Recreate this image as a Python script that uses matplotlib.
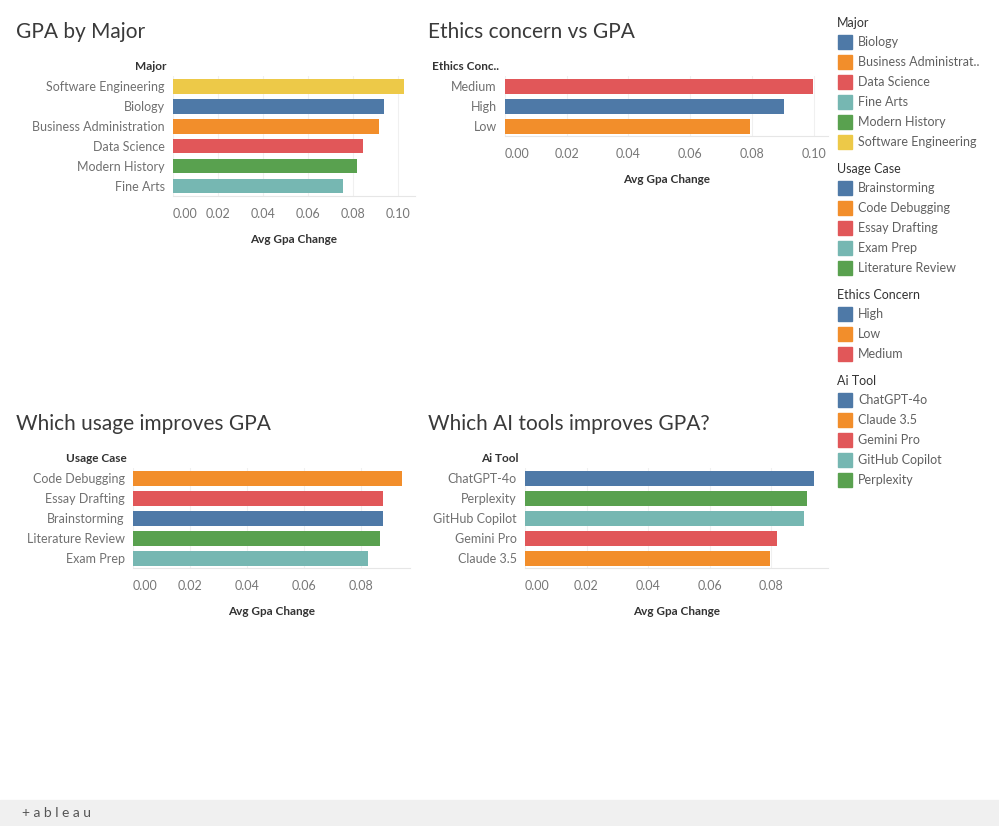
import matplotlib
matplotlib.use('Agg')
import matplotlib.pyplot as plt
from matplotlib.patches import Rectangle

plt.rcParams['font.family'] = ['Lato', 'DejaVu Sans']

BLUE, ORANGE, RED, TEAL, GREEN, YELLOW = '#4e79a7', '#f28e2b', '#e15759', '#76b7b2', '#59a14f', '#edc948'

major_names = ['Software Engineering', 'Biology', 'Business Administration', 'Data Science', 'Modern History', 'Fine Arts']
major_vals = [0.1027, 0.0938, 0.0916, 0.0844, 0.0818, 0.0756]
major_cols = [YELLOW, BLUE, ORANGE, RED, GREEN, TEAL]

ethics_names = ['Medium', 'High', 'Low']
ethics_vals = [0.0998, 0.0904, 0.0794]
ethics_cols = [RED, BLUE, ORANGE]

usage_names = ['Code Debugging', 'Essay Drafting', 'Brainstorming', 'Literature Review', 'Exam Prep']
usage_vals = [0.0944, 0.0877, 0.0877, 0.0867, 0.0825]
usage_cols = [ORANGE, RED, BLUE, GREEN, TEAL]

tool_names = ['ChatGPT-4o', 'Perplexity', 'GitHub Copilot', 'Gemini Pro', 'Claude 3.5']
tool_vals = [0.0940, 0.0917, 0.0907, 0.0820, 0.0797]
tool_cols = [BLUE, GREEN, TEAL, RED, ORANGE]

legends = [
    ('Major', ['Biology', 'Business Administrat..', 'Data Science', 'Fine Arts', 'Modern History', 'Software Engineering'],
     [BLUE, ORANGE, RED, TEAL, GREEN, YELLOW]),
    ('Usage Case', ['Brainstorming', 'Code Debugging', 'Essay Drafting', 'Exam Prep', 'Literature Review'],
     [BLUE, ORANGE, RED, TEAL, GREEN]),
    ('Ethics Concern', ['High', 'Low', 'Medium'], [BLUE, ORANGE, RED]),
    ('Ai Tool', ['ChatGPT-4o', 'Claude 3.5', 'Gemini Pro', 'GitHub Copilot', 'Perplexity'],
     [BLUE, ORANGE, RED, TEAL, GREEN]),
]

W, H = 999, 826
fig = plt.figure(figsize=(W / 100, H / 100), dpi=100)
fig.patch.set_facecolor('white')


def px_axes(left, top, width, height):
    return fig.add_axes([left / W, 1 - (top + height) / H, width / W, height / H])


def bar_chart(title, header, names, vals, cols, left, right, top, xmax, ticks, title_x, title_y):
    n = len(names)
    ax = px_axes(left, top, right - left, n * 20)
    y = list(range(n))
    ax.barh(y, vals, color=cols, height=0.75)
    ax.set_ylim(n - 0.5, -0.5)
    ax.set_xlim(0, xmax)
    ax.set_yticks(y)
    ax.set_yticklabels(names, fontsize=9, color='#707070')
    ax.set_xticks(ticks)
    ax.set_xticklabels(['%.2f' % t for t in ticks], fontsize=9, color='#777777')
    ax.get_xticklabels()[0].set_ha('left')
    ax.tick_params(length=0, pad=6)
    ax.tick_params(axis='x', pad=9)
    for s in ['top', 'right', 'left']:
        ax.spines[s].set_visible(False)
    ax.spines['bottom'].set_color('#e6e6e6')
    ax.grid(axis='x', color='#f0f0f0', lw=0.8)
    ax.set_axisbelow(True)
    ax.set_xlabel('Avg Gpa Change', fontsize=8.5, color='#333333', fontweight='bold', labelpad=10)
    fig.text(title_x / W, 1 - title_y / H, title, fontsize=15, color='#3a3a3a', va='center')
    fig.text((left - 6) / W, 1 - (top - 10) / H, header, fontsize=8.5, color='#333333',
             fontweight='bold', ha='right', va='center')
    return ax


bar_chart('GPA by Major', 'Major', major_names, major_vals, major_cols,
          173, 415, 76, (415 - 173) / 2250, [0, 0.02, 0.04, 0.06, 0.08, 0.10], 16, 32)
bar_chart('Ethics concern vs GPA', 'Ethics Conc..', ethics_names, ethics_vals, ethics_cols,
          505, 828, 76, (828 - 505) / 3085, [0, 0.02, 0.04, 0.06, 0.08, 0.10], 428, 32)
bar_chart('Which usage improves GPA', 'Usage Case', usage_names, usage_vals, usage_cols,
          133, 410, 468, (410 - 133) / 2850, [0, 0.02, 0.04, 0.06, 0.08], 16, 424)
bar_chart('Which AI tools improves GPA?', 'Ai Tool', tool_names, tool_vals, tool_cols,
          525, 828, 468, (828 - 525) / 3075, [0, 0.02, 0.04, 0.06, 0.08], 428, 424)

# legends on the right
y = 23
for head, items, cols in legends:
    fig.text(837 / W, 1 - y / H, head, fontsize=9, color='#333333', va='center')
    y += 19
    for name, c in zip(items, cols):
        fig.patches.append(Rectangle((838 / W, 1 - (y + 7) / H), 14 / W, 14 / H,
                                     color=c, transform=fig.transFigure))
        fig.text(858 / W, 1 - y / H, name, fontsize=9, color='#606060', va='center')
        y += 20
    y += 7

# footer bar
fig.patches.append(Rectangle((0, 0), 1, 26 / H, color='#f0f0f0', transform=fig.transFigure))
fig.text(22 / W, 13 / H, '+ a b l e a u', fontsize=10, color='#555555', va='center')

fig.savefig('out.png', dpi=100)
